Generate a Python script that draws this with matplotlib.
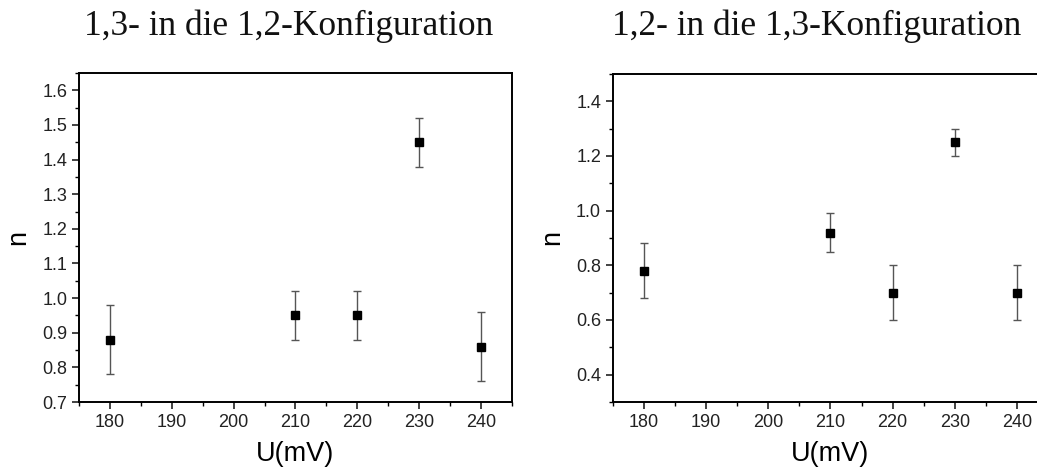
import numpy as np
import matplotlib.pyplot as plt
from matplotlib.ticker import MultipleLocator

# data
u_mv = [180, 210, 220, 230, 240]

n_13_12 = [0.88, 0.95, 0.95, 1.45, 0.86]
err_13_12 = [0.10, 0.07, 0.07, 0.07, 0.10]

n_12_13 = [0.78, 0.92, 0.70, 1.25, 0.70]
err_12_13 = [0.10, 0.07, 0.10, 0.05, 0.10]

titles = ["1,3- in die 1,2-Konfiguration", "1,2- in die 1,3-Konfiguration"]

plt.rcParams['font.family'] = ['Liberation Sans', 'DejaVu Sans']

fig = plt.figure(figsize=(10.37, 4.68), dpi=100)
ax1 = fig.add_axes([0.0762, 0.141, 0.4175, 0.703])
ax2 = fig.add_axes([0.591, 0.141, 0.4196, 0.701])

panels = [
    (ax1, n_13_12, err_13_12, (0.7, 1.65), 0.1, 0.05),
    (ax2, n_12_13, err_12_13, (0.3, 1.5), 0.2, 0.1),
]

for ax, vals, errs, ylim, major, minor in panels:
    ax.errorbar(u_mv, vals, yerr=errs, fmt='s', color='black', ms=5.5,
                ecolor='#555555', elinewidth=1.0, capsize=3, capthick=1.0)
    ax.set_xlim(175, 245)
    ax.set_ylim(*ylim)
    ax.xaxis.set_major_locator(MultipleLocator(10))
    ax.xaxis.set_minor_locator(MultipleLocator(5))
    ax.yaxis.set_major_locator(MultipleLocator(major))
    ax.yaxis.set_minor_locator(MultipleLocator(minor))
    ax.tick_params(which='major', direction='out', length=5, width=1.2,
                   labelsize=13, colors='#222222')
    ax.tick_params(which='minor', direction='out', length=3, width=1.0)
    for s in ax.spines.values():
        s.set_linewidth(1.4)
    ax.set_xlabel("U(mV)", fontsize=19.5, labelpad=7)
    ax.set_ylabel("n", fontsize=19.5, labelpad=8)
    ax.yaxis.set_major_formatter(plt.FormatStrFormatter('%.1f'))

fig.text(289 / 1037, 1 - 26 / 468, titles[0], ha='center', va='center',
         family='Liberation Serif', fontsize=25.5, color='#111111')
fig.text(817 / 1037, 1 - 26 / 468, titles[1], ha='center', va='center',
         family='Liberation Serif', fontsize=25.5, color='#111111')

plt.savefig('out.png', dpi=100)
